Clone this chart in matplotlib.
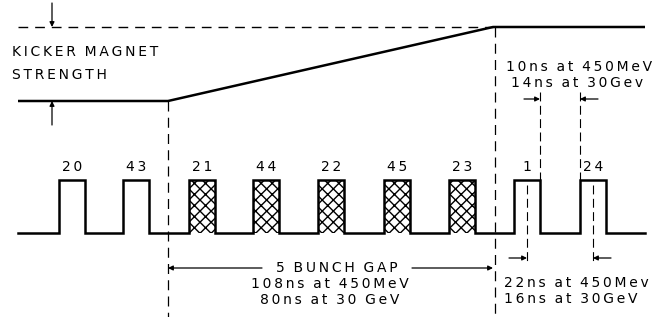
import matplotlib.pyplot as plt
from matplotlib.patches import Rectangle

# bunch train (pixel-like units, y grows downward)
bunch_labels = ['20', '43', '21', '44', '22', '45', '23', '1', '24']
bunch_left = [59, 123, 189, 253, 318, 384, 449, 514, 580]
bunch_hatched = [False, False, True, True, True, True, True, False, False]
bunch_width = 26
base_y, top_y = 233, 180
train_x = (18, 645)

# kicker magnet strength waveform
kicker_x = [18, 168, 493, 645]
kicker_y = [101, 101, 27, 27]

# timing annotations
gap_text = ['5 BUNCH GAP', '108ns at 450MeV', '80ns at 30 GeV']
edge_text = ['10ns at 450MeV', '14ns at 30Gev']
center_text = ['22ns at 450Mev', '16ns at 30GeV']

fig = plt.figure(figsize=(6.65, 3.17), dpi=100)
ax = fig.add_axes([0, 0, 1, 1])
ax.set_xlim(0, 665)
ax.set_ylim(317, 0)
ax.axis('off')

font = dict(family='DejaVu Sans', fontsize=10, color='black')
arrow = dict(arrowstyle='-|>', lw=0.9, color='black', mutation_scale=7, shrinkA=0, shrinkB=0)


def spaced(s):
    # the drawing uses wide letter spacing
    return '\u2009'.join(s).replace(' \u2009', ' ').replace('\u2009 ', '  ')


def label(x, y, s, ha='center'):
    ax.text(x, y, spaced(s), ha=ha, va='center', **font)


# kicker strength
ax.plot(kicker_x, kicker_y, color='black', lw=1.8, solid_capstyle='butt')
ax.plot([kicker_x[0], kicker_x[2]], [kicker_y[-1]] * 2, color='black', lw=1.0, dashes=(7, 5))
ax.annotate('', xy=(52, kicker_y[-1]), xytext=(52, 3), arrowprops=arrow)
ax.annotate('', xy=(52, kicker_y[0]), xytext=(52, 125), arrowprops=arrow)
label(12, 52, 'KICKER MAGNET', ha='left')
label(12, 75, 'STRENGTH', ha='left')

# pulse train
xs, ys = [train_x[0]], [base_y]
for left in bunch_left:
    xs += [left, left, left + bunch_width, left + bunch_width]
    ys += [base_y, top_y, top_y, base_y]
xs.append(train_x[1])
ys.append(base_y)
for left, lab, hatch in zip(bunch_left, bunch_labels, bunch_hatched):
    if hatch:
        ax.add_patch(Rectangle((left, top_y), bunch_width, base_y - top_y, facecolor='white',
                               edgecolor='black', hatch='xxx', lw=0))
    label(left + bunch_width / 2, 167, lab)
ax.plot(xs, ys, color='black', lw=1.8, solid_joinstyle='miter')

# vertical dashed markers
ax.plot([kicker_x[1]] * 2, [kicker_y[0], 317], color='black', lw=0.9, dashes=(8, 5))
ax.plot([kicker_x[2] + 2] * 2, [kicker_y[-1], 317], color='black', lw=0.9, dashes=(8, 5))
edge_a = bunch_left[7] + bunch_width
edge_b = bunch_left[8]
for xe in (edge_a, edge_b):
    ax.plot([xe, xe], [92, 185], color='black', lw=0.8, dashes=(8, 4))
ctr_a = bunch_left[7] + bunch_width / 2
ctr_b = bunch_left[8] + bunch_width / 2
for xc in (ctr_a, ctr_b):
    ax.plot([xc, xc], [185, 262], color='black', lw=0.8, dashes=(8, 4))

# edge-to-edge gap
ax.annotate('', xy=(edge_a, 99), xytext=(edge_a - 16, 99), arrowprops=arrow)
ax.annotate('', xy=(edge_b, 99), xytext=(edge_b + 18, 99), arrowprops=arrow)
label(579, 67, edge_text[0])
label(577, 83, edge_text[1])

# centre-to-centre spacing
ax.annotate('', xy=(ctr_a, 258), xytext=(ctr_a - 18, 258), arrowprops=arrow)
ax.annotate('', xy=(ctr_b, 258), xytext=(ctr_b + 18, 258), arrowprops=arrow)
label(576, 283, center_text[0])
label(571, 299, center_text[1])

# five bunch gap
ax.annotate('', xy=(kicker_x[1], 268), xytext=(262, 268), arrowprops=arrow)
ax.annotate('', xy=(kicker_x[2], 268), xytext=(412, 268), arrowprops=arrow)
label(337, 268, gap_text[0])
label(330, 284, gap_text[1])
label(330, 300, gap_text[2])

fig.savefig('out.png', dpi=100)
